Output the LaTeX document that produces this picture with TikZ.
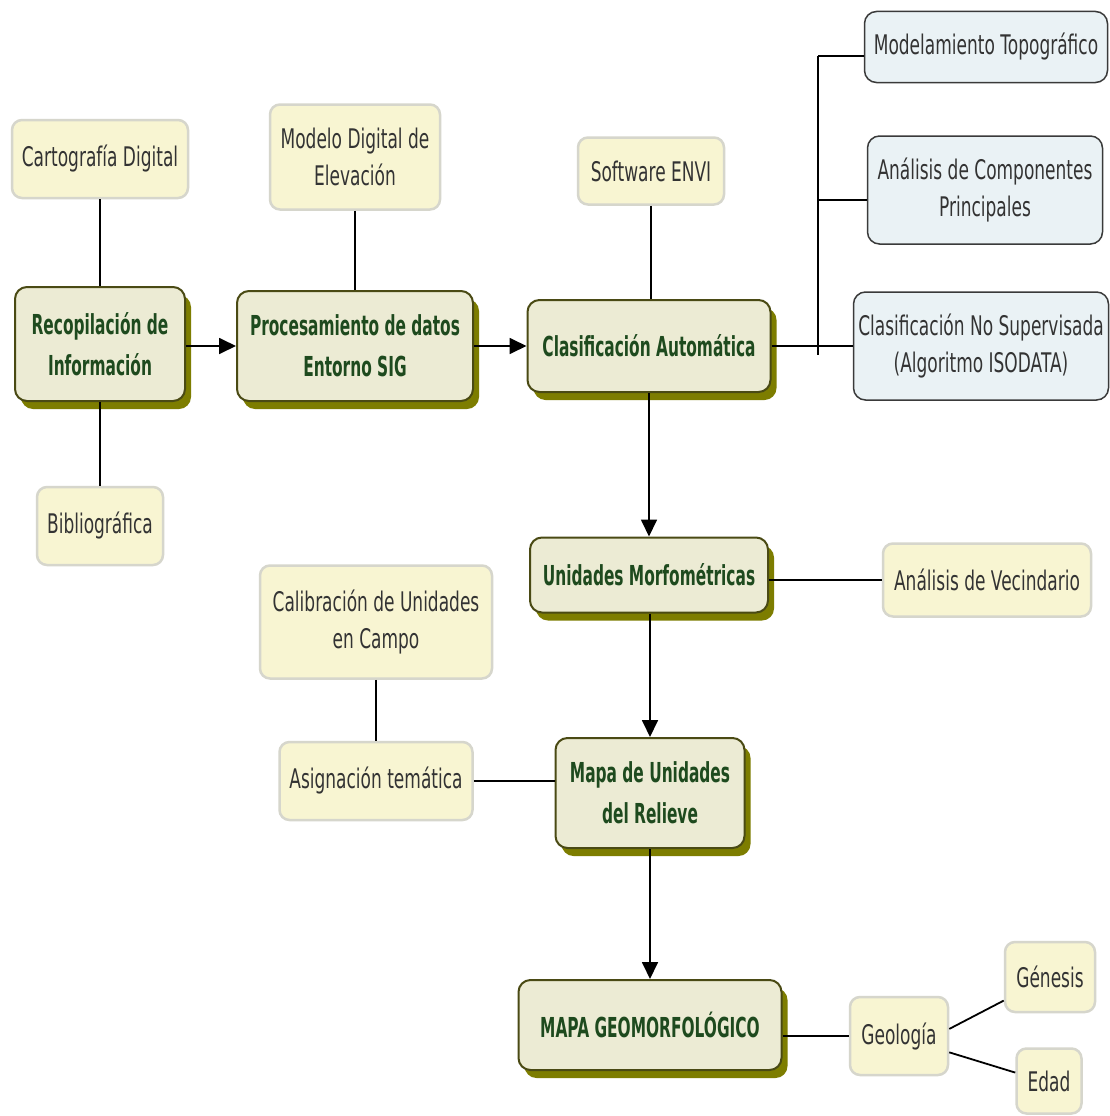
\documentclass[tikz,border=0pt]{standalone}
\usepackage{fontspec}
\newfontfamily\leaffont{DejaVu Sans}[FakeStretch=0.63]
\newfontfamily\mainfnt{DejaVu Sans}[FakeStretch=0.56]
\usetikzlibrary{arrows.meta,shadows,calc}
\definecolor{mainfill}{HTML}{ECEBD4}
\definecolor{mainborder}{HTML}{4A4A14}
\definecolor{mainshadow}{HTML}{7D7D00}
\definecolor{maintext}{HTML}{1E4A1E}
\definecolor{leaffill}{HTML}{F8F5D2}
\definecolor{leafborder}{HTML}{D6D6CC}
\definecolor{bluefill}{HTML}{EAF2F5}
\definecolor{blueborder}{HTML}{3A3A3A}
\definecolor{leaftext}{HTML}{333333}
\tikzset{
  mainbox/.style={draw=mainborder, line width=2pt, fill=mainfill, rounded corners=12pt,
    drop shadow={shadow xshift=6pt, shadow yshift=-8pt, fill=mainshadow, opacity=1},
    align=center, inner sep=0pt, text=maintext,
    font=\mainfnt\bfseries\fontsize{27.5}{41}\selectfont},
  leafbox/.style={draw=leafborder, line width=2.5pt, fill=leaffill, rounded corners=10pt,
    align=center, inner sep=0pt, text=leaftext,
    font=\leaffont\fontsize{27}{37}\selectfont},
  bluebox/.style={draw=blueborder, line width=1.5pt, fill=bluefill, rounded corners=12pt,
    align=center, inner sep=0pt, text=leaftext,
    font=\leaffont\fontsize{27}{37}\selectfont},
  conn/.style={line width=1.8pt, draw=black},
  arr/.style={conn, -{Triangle[length=17pt,width=16pt]}},
}
\begin{document}
\begin{tikzpicture}[x=1pt,y=-1pt]
\useasboundingbox[fill=white] (0,0) rectangle (1110,1116);

\node[leafbox, minimum width=176pt, minimum height=78pt] (cart) at (100,159) {Cartografía Digital};
\node[mainbox, minimum width=170pt, minimum height=114pt] (recop) at (100,344) {Recopilación de\\Información};
\node[leafbox, minimum width=126pt, minimum height=78pt] (biblio) at (100,526) {Bibliográfica};
\node[leafbox, minimum width=170pt, minimum height=105pt] (modelo) at (355,157) {Modelo Digital de\\Elevación};
\node[mainbox, minimum width=236pt, minimum height=110pt] (proc) at (355,346) {Procesamiento de datos\\Entorno SIG};
\node[leafbox, minimum width=146pt, minimum height=67pt] (soft) at (651,171) {Software ENVI};
\node[mainbox, minimum width=243pt, minimum height=92pt] (clasif) at (649,346) {Clasificación Automática};
\node[bluebox, minimum width=243pt, minimum height=71pt] (topo) at (986,47) {Modelamiento Topográfico};
\node[bluebox, minimum width=235pt, minimum height=108pt] (acp) at (985,190) {Análisis de Componentes\\Principales};
\node[bluebox, minimum width=255pt, minimum height=108pt] (cns) at (981,346) {Clasificación No Supervisada\\(Algoritmo ISODATA)};
\node[mainbox, minimum width=238pt, minimum height=75pt] (unid) at (649,575) {Unidades Morfométricas};
\node[leafbox, minimum width=208pt, minimum height=73pt] (vec) at (987,580) {Análisis de Vecindario};
\node[leafbox, minimum width=232pt, minimum height=113pt] (calib) at (376,622) {Calibración de Unidades\\en Campo};
\node[leafbox, minimum width=193pt, minimum height=78pt] (asig) at (376,781) {Asignación temática};
\node[mainbox, minimum width=189pt, minimum height=110pt] (mapau) at (650,793) {Mapa de Unidades\\del Relieve};
\node[mainbox, minimum width=263pt, minimum height=90pt] (geo) at (650,1025) {MAPA GEOMORFOLÓGICO};
\node[leafbox, minimum width=98pt, minimum height=78pt] (geol) at (899,1036) {Geología};
\node[leafbox, minimum width=90pt, minimum height=70pt] (gen) at (1050,977) {Génesis};
\node[leafbox, minimum width=65pt, minimum height=65pt] (edad) at (1049,1081) {Edad};

\coordinate (brtop) at (818,56);
\coordinate (brmid) at (818,200);
\coordinate (brbot) at (818,355);

\draw[conn] (cart) -- (recop);
\draw[conn] (recop) -- (biblio);
\draw[arr] (recop.east |- proc.west) -- (proc);
\draw[conn] (modelo) -- (proc);
\draw[arr] (proc.east |- clasif.west) -- (clasif);
\draw[conn] (soft) -- (soft |- clasif.north);
\draw[conn] (clasif) -- (cns);
\draw[conn] (brtop) -- (brbot);
\draw[conn] (brtop) -- (brtop -| topo.west);
\draw[conn] (brmid) -- (brmid -| acp.west);
\draw[arr] (clasif) -- (unid);
\draw[conn] (unid.east |- vec.west) -- (vec);
\draw[arr] (mapau |- unid.south) -- (mapau);
\draw[conn] (calib) -- (asig);
\draw[conn] (asig) -- (asig -| mapau.west);
\draw[arr] (mapau) -- (geo);
\draw[conn] (geo.east |- geol.west) -- (geol);
\draw[conn] (geol.8) -- (gen.207);
\draw[conn] (geol.342) -- (edad.166);
\end{tikzpicture}
\end{document}
